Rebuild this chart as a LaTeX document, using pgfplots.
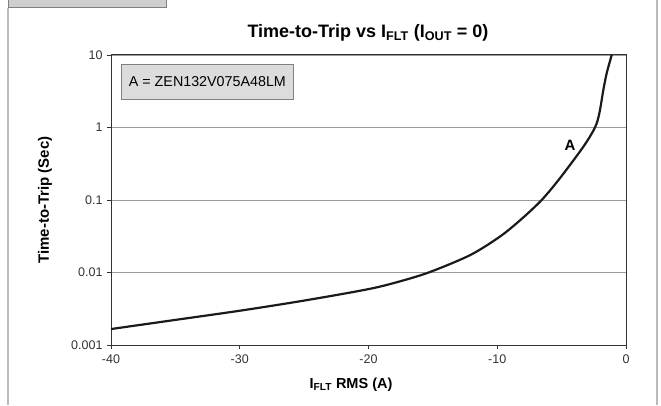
\documentclass[border=0pt]{standalone}
\usepackage{pgfplots}
\pgfplotsset{compat=1.18}
\usepackage{fontspec}
\setmainfont{Liberation Sans}
\definecolor{axisgray}{HTML}{333333}
\definecolor{gridgray}{HTML}{9A9A9A}
\definecolor{framegray}{HTML}{BBBBBB}
\definecolor{boxfill}{HTML}{DCDCDC}
\definecolor{curve}{HTML}{1A1A1A}
\begin{document}
\begin{tikzpicture}[x=1pt,y=1pt]
\useasboundingbox (0,0) rectangle (661,405);
% outer frame
\draw[framegray,line width=1.2pt] (8,0) -- (8,397);
\draw[framegray,line width=1.2pt] (657,0) -- (657,405);
\draw[gray,fill=framegray!70,line width=0.8pt] (8,398) rectangle (166,412);
\begin{axis}[
  at={(111pt,60pt)}, anchor=south west,
  width=515pt, height=290pt, scale only axis,
  xmin=-40, xmax=0, ymin=0.001, ymax=10, ymode=log,
  xtick={-40,-30,-20,-10,0},
  xticklabels={-40,-30,-20,-10,0},
  ytick={0.001,0.01,0.1,1,10},
  yticklabels={0.001,0.01,0.1,1,10},
  minor tick num=0, yminorticks=false,
  tick align=outside, tick pos=left,
  major tick length=4pt,
  axis line style={axisgray,line width=1pt},
  every tick/.style={axisgray,line width=0.8pt},
  ymajorgrids, major grid style={gridgray,line width=0.9pt},
  tick label style={font=\fontsize{12.5}{14}\selectfont, text=axisgray},
  /pgf/number format/assume math mode=true,
  xticklabel style={yshift=-2pt},
  yticklabel style={xshift=-1pt},
  clip=false,
]
\addplot[curve, line width=2.2pt, smooth] coordinates {
(-40,0.00166) (-35,0.00222) (-30,0.00297) (-25,0.0041) (-20,0.0059)
(-17.5,0.0076) (-15.2,0.0102) (-12.1,0.0174) (-9.8,0.0312) (-8.2,0.053)
(-6.55,0.1) (-5.13,0.2) (-3.31,0.544) (-2.41,1.0)
(-2.07,1.57) (-1.76,3.29) (-1.5,5.6) (-1.11,10)
};
\node[font=\bfseries\fontsize{15}{17}\selectfont] at (axis cs:-4.35,0.575) {A};
\end{axis}
\node[draw=gray, fill=boxfill, line width=0.8pt, anchor=north west, minimum width=172pt, minimum height=35pt, font=\fontsize{14.3}{16}\selectfont, inner sep=0pt] at (121,341) {A = ZEN132V075A48LM};
\node[font=\bfseries\fontsize{18}{20}\selectfont] at (368,372) {Time-to-Trip vs I\textsubscript{FLT} (I\textsubscript{OUT} = 0)};
\node[font=\bfseries\fontsize{15}{17}\selectfont, rotate=90] at (45,205) {Time-to-Trip (Sec)};
\node[font=\bfseries\fontsize{14.5}{16}\selectfont] at (351,20) {I\textsubscript{FLT} RMS (A)};
\end{tikzpicture}
\end{document}
